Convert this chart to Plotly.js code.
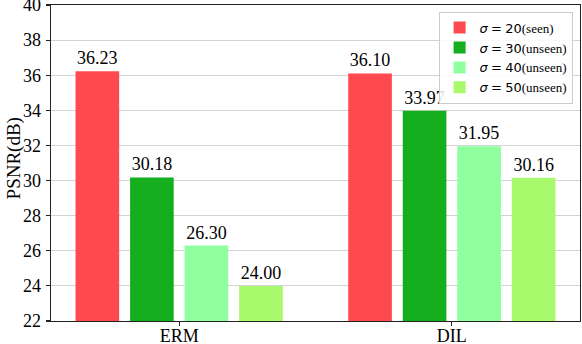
<!DOCTYPE html>
<html>
<head>
<meta charset="utf-8">
<script src="https://cdn.plot.ly/plotly-3.0.1.min.js"></script>
<style>html,body{margin:0;padding:0;background:#fff;}#chart{width:582px;height:344px;}</style>
</head>
<body>
<div id="chart"></div>
<script>
const categories = ["ERM", "DIL"];
const seriesNames = [
  "<i>σ</i>\u2005=\u200520<span style=\"font-family:'Liberation Serif'\">(seen)</span>",
  "<i>σ</i>\u2005=\u200530<span style=\"font-family:'Liberation Serif'\">(unseen)</span>",
  "<i>σ</i>\u2005=\u200540<span style=\"font-family:'Liberation Serif'\">(unseen)</span>",
  "<i>σ</i>\u2005=\u200550<span style=\"font-family:'Liberation Serif'\">(unseen)</span>"
];
const sigma20 = [36.23, 36.10];
const sigma30 = [30.18, 33.97];
const sigma40 = [26.30, 31.95];
const sigma50 = [24.00, 30.16];
const colors = ["#fe4a4f", "#14ae1e", "#8fff9f", "#a9f96d"];
const yTicks = [22, 24, 26, 28, 30, 32, 34, 36, 38, 40];
const yTitle = "PSNR(dB)";

const serif = "'Liberation Serif', 'Times New Roman', serif";
const allSeries = [sigma20, sigma30, sigma40, sigma50];
const traces = allSeries.map((vals, i) => ({
  type: "bar",
  x: categories,
  y: vals,
  name: seriesNames[i],
  marker: {color: colors[i], line: {width: 0}},
  text: vals.map(v => v.toFixed(2)),
  textposition: "outside",
  textfont: {family: serif, size: 18, color: "#000"},
  cliponaxis: false,
  hoverinfo: "none"
}));

const layout = {
  width: 582,
  height: 344,
  margin: {l: 51, r: 1.5, t: 4.5, b: 23.3, pad: 0},
  paper_bgcolor: "#fff",
  plot_bgcolor: "#fff",
  font: {family: serif, size: 18, color: "#000"},
  barmode: "group",
  bargap: 0.2,
  bargroupgap: 0.2,
  showlegend: true,
  legend: {
    x: 0.986, y: 0.979, xanchor: "right", yanchor: "top",
    bgcolor: "rgba(255,255,255,0.85)",
    bordercolor: "#cccccc", borderwidth: 1,
    font: {family: "'DejaVu Sans', sans-serif", size: 13, color: "#000"},
    traceorder: "normal",
    itemwidth: 30,
    tracegroupgap: 0
  },
  annotations: [{
    text: yTitle, xref: "paper", yref: "paper",
    x: -0.0708, y: 0.513, xanchor: "center", yanchor: "middle",
    textangle: -90, showarrow: false,
    font: {family: serif, size: 19, color: "#000"}
  }],
  xaxis: {
    type: "category",
    range: [-0.47, 1.47],
    showgrid: false,
    showline: true, mirror: true, linecolor: "#222", linewidth: 1.3,
    ticks: "outside", ticklen: 4, tickwidth: 1.2, tickcolor: "#222",
    ticklabelstandoff: -6,
    tickfont: {family: serif, size: 18, color: "#000"},
    automargin: false,
    zeroline: false
  },
  yaxis: {
    range: [22, 40],
    tickvals: yTicks,
    ticktext: yTicks.map(String),
    ticklabeloverflow: "allow",
    showgrid: true, gridcolor: "#d3d3d3", gridwidth: 1.2,
    showline: true, mirror: true, linecolor: "#222", linewidth: 1.3,
    ticks: "outside", ticklen: 4, tickwidth: 1.2, tickcolor: "#222",
    ticklabelstandoff: 1,
    tickfont: {family: serif, size: 18, color: "#000"},
    automargin: false,
    zeroline: false
  }
};

Plotly.newPlot("chart", traces, layout, {staticPlot: true, displayModeBar: false});
</script>
</body>
</html>
